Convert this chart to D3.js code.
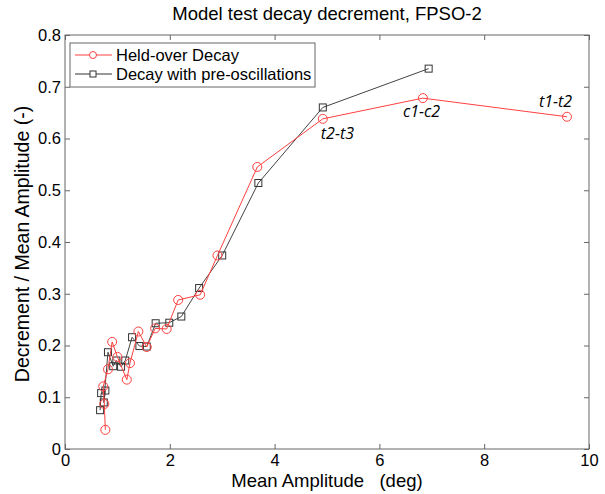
<!DOCTYPE html>
<html>
<head>
<meta charset="utf-8">
<script src="https://cdn.jsdelivr.net/npm/d3@7"></script>
<style>
  body { margin: 0; background: #fff; }
  text { font-family: "Liberation Sans", Arial, sans-serif; }
</style>
</head>
<body>
<svg id="chart" width="605" height="494"></svg>
<script>
// Held-over Decay (red circles)
var heldX = [0.77, 0.75, 0.73, 0.82, 0.90, 1.00, 1.18, 1.24, 1.40, 1.56, 1.72, 1.94, 2.16, 2.58, 2.91, 3.67, 4.92, 6.83, 9.58];
var heldY = [0.037, 0.087, 0.121, 0.154, 0.207, 0.178, 0.134, 0.166, 0.227, 0.197, 0.233, 0.232, 0.288, 0.298, 0.374, 0.545, 0.638, 0.678, 0.642];
// Decay with pre-oscillations (black squares)
var preX = [0.67, 0.69, 0.77, 0.74, 0.82, 0.92, 0.98, 1.07, 1.15, 1.28, 1.42, 1.56, 1.73, 1.99, 2.22, 2.56, 3.00, 3.69, 4.92, 6.94];
var preY = [0.075, 0.108, 0.113, 0.090, 0.187, 0.160, 0.171, 0.159, 0.171, 0.216, 0.199, 0.198, 0.243, 0.244, 0.256, 0.311, 0.374, 0.514, 0.660, 0.735];
var xTicks = [0, 2, 4, 6, 8, 10];
var yTicks = [0, 0.1, 0.2, 0.3, 0.4, 0.5, 0.6, 0.7, 0.8];
var notes = [
  { label: "t2-t3", x: 4.92, y: 0.638 },
  { label: "c1-c2", x: 6.83, y: 0.678 },
  { label: "t1-t2", x: 9.58, y: 0.642 }
];

var padL = 65, padR = 589, padT = 35, padB = 449;
var svg = d3.select("#chart");

var x = d3.scaleLinear().domain([0, 10]).range([padL, padR]);
var y = d3.scaleLinear().domain([0, 0.8]).range([padB, padT]);

// axes with inward ticks, MATLAB style box
var axisColor = "#666";
function styleAxis(g) {
  g.select(".domain").remove();
  g.selectAll(".tick line").attr("stroke", axisColor);
  g.selectAll(".tick text").attr("fill", "#000").style("font-size", "16.5px");
}
svg.append("g").attr("transform", "translate(0," + padB + ")")
  .call(d3.axisBottom(x).tickValues(xTicks).tickSize(-5).tickPadding(5).tickFormat(d3.format("d")))
  .call(styleAxis);
svg.append("g").attr("transform", "translate(0," + padT + ")")
  .call(d3.axisTop(x).tickValues(xTicks).tickSize(-5).tickFormat(""))
  .call(styleAxis);
svg.append("g").attr("transform", "translate(" + padL + ",0)")
  .call(d3.axisLeft(y).tickValues(yTicks).tickSize(-5).tickPadding(4).tickFormat(function (d) { return d === 0 ? "0" : d3.format(".1f")(d); }))
  .call(styleAxis);
svg.append("g").attr("transform", "translate(" + padR + ",0)")
  .call(d3.axisRight(y).tickValues(yTicks).tickSize(-5).tickFormat(""))
  .call(styleAxis);

svg.append("rect")
  .attr("x", padL).attr("y", padT)
  .attr("width", padR - padL).attr("height", padB - padT)
  .attr("fill", "none").attr("stroke", axisColor).attr("stroke-width", 1);

// series
var line = d3.line().x(function (d) { return x(d[0]); }).y(function (d) { return y(d[1]); });
var held = d3.zip(heldX, heldY);
var pre = d3.zip(preX, preY);
var red = "#ff4040";

svg.append("path").datum(pre).attr("d", line)
  .attr("fill", "none").attr("stroke", "#444").attr("stroke-width", 1);
svg.selectAll(".pre").data(pre).enter().append("rect")
  .attr("class", "pre")
  .attr("x", function (d) { return x(d[0]) - 3.5; })
  .attr("y", function (d) { return y(d[1]) - 3.5; })
  .attr("width", 7).attr("height", 7)
  .attr("fill", "none").attr("stroke", "#333").attr("stroke-width", 1);

svg.append("path").datum(held).attr("d", line)
  .attr("fill", "none").attr("stroke", red).attr("stroke-width", 1);
svg.selectAll(".held").data(held).enter().append("circle")
  .attr("class", "held")
  .attr("cx", function (d) { return x(d[0]); })
  .attr("cy", function (d) { return y(d[1]); })
  .attr("r", 4.5)
  .attr("fill", "none").attr("stroke", red).attr("stroke-width", 1);

// annotations
var offs = [[-2, 20], [-20, 19], [-28, -10]];
svg.selectAll(".note").data(notes).enter().append("text")
  .attr("class", "note")
  .attr("x", function (d, i) { return x(d.x) + offs[i][0]; })
  .attr("y", function (d, i) { return y(d.y) + offs[i][1]; })
  .style("font-family", "'Open Sans', sans-serif")
  .style("font-style", "italic")
  .style("font-size", "16px")
  .text(function (d) { return d.label; });

// legend
var lg = svg.append("g");
lg.append("rect").attr("x", 70).attr("y", 43).attr("width", 245).attr("height", 44)
  .attr("fill", "#fff").attr("stroke", axisColor);
var legendItems = [
  { name: "Held-over Decay", color: red, shape: "circle" },
  { name: "Decay with pre-oscillations", color: "#333", shape: "square" }
];
legendItems.forEach(function (d, i) {
  var ly = 55 + i * 19;
  lg.append("line").attr("x1", 75).attr("x2", 112).attr("y1", ly).attr("y2", ly)
    .attr("stroke", d.color);
  if (d.shape === "circle") {
    lg.append("circle").attr("cx", 93).attr("cy", ly).attr("r", 3.5)
      .attr("fill", "#fff").attr("stroke", d.color);
  } else {
    lg.append("rect").attr("x", 90).attr("y", ly - 3).attr("width", 6).attr("height", 6)
      .attr("fill", "#fff").attr("stroke", d.color);
  }
  lg.append("text").attr("x", 116).attr("y", ly + 6)
    .style("font-size", "16.5px").text(d.name);
});

// titles
svg.append("text").attr("x", (padL + padR) / 2).attr("y", 20)
  .attr("text-anchor", "middle").style("font-size", "18.5px")
  .text("Model test decay decrement, FPSO-2");
svg.append("text").attr("x", (padL + padR) / 2).attr("y", 487)
  .attr("text-anchor", "middle").style("font-size", "18.5px").attr("xml:space", "preserve")
  .text("Mean Amplitude   (deg)");
svg.append("text")
  .attr("transform", "translate(29," + 244 + ") rotate(-90)")
  .attr("text-anchor", "middle").style("font-size", "19.5px")
  .text("Decrement / Mean Amplitude (-)");
</script>
</body>
</html>
